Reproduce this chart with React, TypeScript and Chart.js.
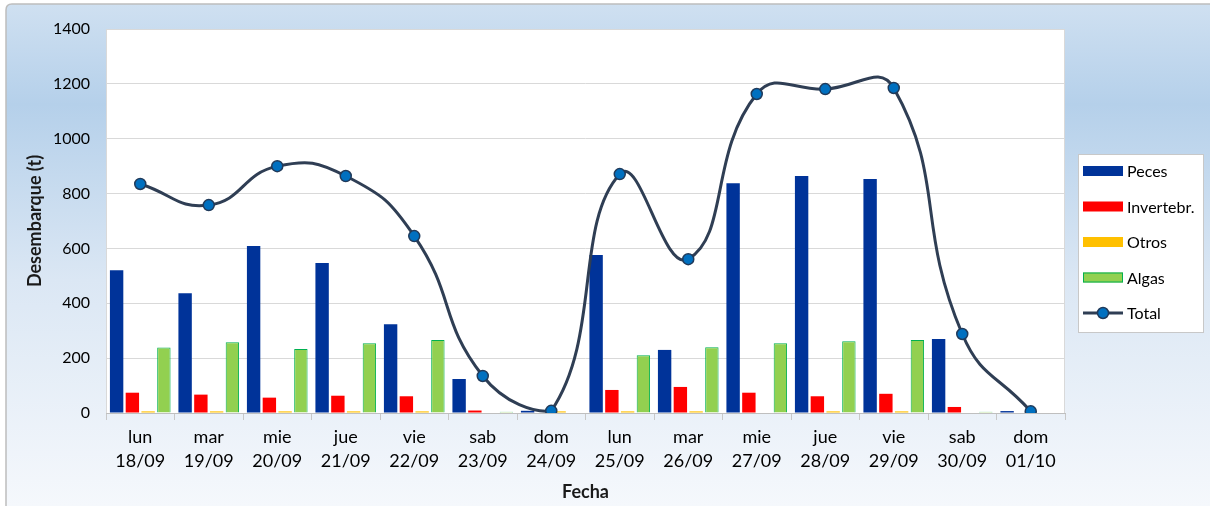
import React, { useEffect, useRef } from "react";
import { Chart, registerables } from "chart.js";

Chart.register(...registerables);

const days = ["lun", "mar", "mie", "jue", "vie", "sab", "dom", "lun", "mar", "mie", "jue", "vie", "sab", "dom"];
const dates = ["18/09", "19/09", "20/09", "21/09", "22/09", "23/09", "24/09", "25/09", "26/09", "27/09", "28/09", "29/09", "30/09", "01/10"];
const peces = [520, 437, 609, 547, 324, 124, 8, 576, 230, 838, 864, 853, 270, 7];
const invertebr = [74, 67, 56, 63, 61, 9, 0, 84, 95, 74, 61, 70, 22, 0];
const otros = [6, 6, 6, 6, 6, 0, 6, 6, 6, 0, 6, 6, 0, 0];
const algas = [239, 258, 233, 254, 266, 5, 0, 211, 240, 254, 262, 266, 5, 0];
const total = [835, 758, 900, 864, 645, 135, 8, 871, 561, 1163, 1181, 1185, 288, 6];
const yTicks = [0, 200, 400, 600, 800, 1000, 1200, 1400];

const FONT = "Lato, 'Open Sans', sans-serif";

const backgroundPlugin = {
  id: "bgFrame",
  beforeDraw(chart: any) {
    const { ctx, width, height, chartArea } = chart;
    ctx.save();
    ctx.fillStyle = "#ffffff";
    ctx.fillRect(0, 0, width, height);
    const g = ctx.createLinearGradient(0, 4, 0, height);
    g.addColorStop(0, "#cfe0f1");
    g.addColorStop(0.2, "#b5d0ea");
    g.addColorStop(0.55, "#dbe7f4");
    g.addColorStop(1, "#f5f8fc");
    ctx.fillStyle = g;
    ctx.beginPath();
    ctx.moveTo(6 + 6, 4);
    ctx.lineTo(width + 5, 4);
    ctx.lineTo(width + 5, height + 5);
    ctx.lineTo(6, height + 5);
    ctx.lineTo(6, 4 + 6);
    ctx.quadraticCurveTo(6, 4, 12, 4);
    ctx.closePath();
    ctx.fill();
    ctx.strokeStyle = "#bdbdbd";
    ctx.lineWidth = 1.5;
    ctx.stroke();
    ctx.fillStyle = "#ffffff";
    ctx.fillRect(chartArea.left, chartArea.top, chartArea.right - chartArea.left, chartArea.bottom - chartArea.top);
    ctx.strokeStyle = "#d9d9d9";
    ctx.lineWidth = 1;
    ctx.strokeRect(chartArea.left + 0.5, chartArea.top + 0.5, chartArea.right - chartArea.left - 1, chartArea.bottom - chartArea.top);
    ctx.restore();
  },
};

const legendPlugin = {
  id: "boxLegend",
  afterDraw(chart: any) {
    const { ctx, chartArea } = chart;
    const bx = chartArea.right + 13;
    const by = 154;
    const bw = 125;
    const bh = 178;
    ctx.save();
    ctx.fillStyle = "#ffffff";
    ctx.fillRect(bx, by, bw, bh);
    ctx.strokeStyle = "#c8c8c8";
    ctx.lineWidth = 1;
    ctx.strokeRect(bx + 0.5, by + 0.5, bw, bh);
    const order = [1, 2, 3, 4, 0];
    order.forEach((di, i) => {
      const ds = chart.data.datasets[di];
      const cy = by + 17 + i * 35.5;
      const sx = bx + 5;
      const sw = 40;
      if (ds.type === "line") {
        ctx.strokeStyle = ds.borderColor;
        ctx.lineWidth = 3;
        ctx.beginPath();
        ctx.moveTo(sx, cy);
        ctx.lineTo(sx + sw, cy);
        ctx.stroke();
        ctx.beginPath();
        ctx.arc(sx + sw / 2, cy, 5.5, 0, Math.PI * 2);
        ctx.fillStyle = ds.pointBackgroundColor;
        ctx.fill();
        ctx.lineWidth = 1.5;
        ctx.strokeStyle = ds.pointBorderColor;
        ctx.stroke();
      } else {
        ctx.fillStyle = ds.backgroundColor;
        ctx.fillRect(sx, cy - 5, sw, 10);
        if (ds.legendBorder) {
          ctx.strokeStyle = ds.legendBorder;
          ctx.lineWidth = 1;
          ctx.strokeRect(sx + 0.5, cy - 4.5, sw - 1, 9);
        }
      }
      ctx.fillStyle = "#000000";
      ctx.font = `16px ${FONT}`;
      ctx.textAlign = "left";
      ctx.textBaseline = "middle";
      ctx.fillText(ds.label, sx + sw + 4, cy + 1);
    });
    ctx.restore();
  },
};

export default function App() {
  const ref = useRef<HTMLCanvasElement | null>(null);

  useEffect(() => {
    if (!ref.current) return;
    const labels = days.map((d, i) => [d, dates[i]]);
    const chart = new Chart(ref.current, {
      type: "bar",
      data: {
        labels,
        datasets: [
          {
            type: "line",
            label: "Total",
            data: total,
            order: 0,
            borderColor: "#2f3e54",
            borderWidth: 3,
            tension: 0.48,
            pointRadius: 5.5,
            pointBackgroundColor: "#0070c0",
            pointBorderColor: "#203a5a",
            pointBorderWidth: 1.5,
            fill: false,
          } as any,
          {
            type: "bar",
            label: "Peces",
            data: peces,
            order: 1,
            backgroundColor: "#003399",
            borderWidth: 0,
          },
          {
            type: "bar",
            label: "Invertebr.",
            data: invertebr,
            order: 1,
            backgroundColor: "#ff0000",
            borderWidth: 0,
          },
          {
            type: "bar",
            label: "Otros",
            data: otros,
            order: 1,
            backgroundColor: "#ffc000",
            borderWidth: 0,
          },
          {
            type: "bar",
            label: "Algas",
            data: algas,
            order: 1,
            backgroundColor: "#92d050",
            borderColor: "#00b050",
            borderWidth: 1,
            legendBorder: "#00b050",
          } as any,
        ],
      },
      options: {
        responsive: false,
        animation: false,
        maintainAspectRatio: false,
        layout: { padding: { top: 29, right: 145, left: 0, bottom: 0 } },
        datasets: {
          bar: { categoryPercentage: 0.92, barPercentage: 0.85 },
        },
        plugins: {
          legend: { display: false },
          tooltip: { enabled: false },
          title: { display: false },
        },
        scales: {
          x: {
            offset: true,
            grid: {
              offset: true,
              drawOnChartArea: false,
              drawTicks: true,
              tickLength: 7,
              color: "#c8c8c8",
            },
            border: { color: "#bfbfbf" },
            ticks: {
              color: "#000000",
              font: { family: FONT, size: 18, lineHeight: 1.33 },
              padding: 5,
              maxRotation: 0,
              autoSkip: false,
            },
            title: {
              display: true,
              text: "Fecha",
              color: "#1a1a1a",
              font: { family: FONT, size: 18, weight: "bold", lineHeight: 1.2 },
              padding: { top: 0, bottom: 3 },
            },
            afterFit(scale: any) {
              scale.height = 93;
            },
          },
          y: {
            min: 0,
            max: 1400,
            afterBuildTicks(scale: any) {
              scale.ticks = yTicks.map((v) => ({ value: v }));
            },
            grid: { color: "#d9d9d9", drawTicks: false },
            border: { display: false },
            ticks: {
              color: "#000000",
              font: { family: FONT, size: 16 },
              padding: 16,
              callback: (v: any) => String(v),
            },
            title: {
              display: true,
              text: "Desembarque (t)",
              color: "#1a1a1a",
              font: { family: FONT, size: 18, weight: "bold", lineHeight: 1.2 },
              padding: { top: 24, bottom: 0 },
            },
            afterFit(scale: any) {
              scale.width = 106;
            },
          },
        },
      },
      plugins: [backgroundPlugin, legendPlugin],
    });
    return () => chart.destroy();
  }, []);

  return (
    <div style={{ position: "fixed", left: 0, top: 0, width: 1210, height: 506 }}>
      <canvas ref={ref} width={1210} height={506} style={{ width: 1210, height: 506, display: "block" }} />
    </div>
  );
}
